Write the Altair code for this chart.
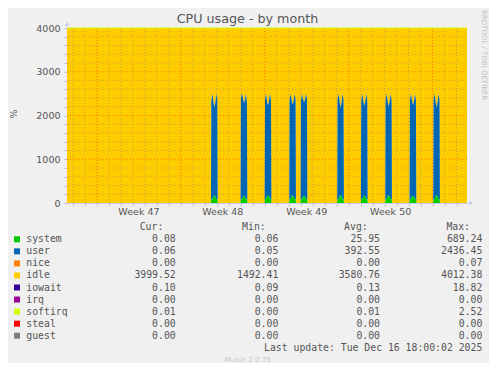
import altair as alt
import pandas as pd

# ---------------- data (time in days since Mon 17 Nov 2025 00:00 = start of ISO week 47)
x_domain = [-2.5, 30.87]
y_domain = [0, 4000]

base_user = 0.06
base_system = 0.08
base_idle = 3999.52

spike_start = [9.54, 12.01, 14.02, 16.07, 17.02, 20.07, 22.05, 24.08, 26.11, 28.08]
sample_step = 1 / 12  # 2-hour consolidated samples

spike_user = [
    [2250, 2420, 2170, 2020, 2140, 2410, 2240],
    [2300, 2436, 2260, 2120, 2210, 2425, 2200],
    [2270, 2415, 2150, 2060, 2180, 2420, 2230],
    [2260, 2410, 2200, 2080, 2170, 2415, 2250],
    [2240, 2420, 2230, 2150, 2200, 2410, 2280],
    [2290, 2425, 2180, 2000, 2120, 2420, 2250],
    [2250, 2420, 2190, 2050, 2160, 2410, 2230],
    [2270, 2415, 2170, 2030, 2150, 2420, 2240],
    [2260, 2420, 2200, 2070, 2170, 2415, 2250],
    [2280, 2425, 2160, 2010, 2140, 2420, 2240],
]
spike_system = [
    [90, 80, 150, 170, 150, 85, 90],
    [95, 70, 140, 165, 145, 75, 95],
    [100, 85, 160, 175, 155, 80, 100],
    [95, 90, 155, 170, 150, 85, 95],
    [100, 80, 150, 160, 150, 90, 100],
    [90, 75, 150, 175, 160, 80, 90],
    [95, 80, 150, 165, 150, 85, 95],
    [90, 85, 155, 170, 155, 80, 90],
    [95, 80, 150, 165, 150, 85, 95],
    [90, 75, 155, 175, 160, 80, 90],
]
spike_idle = [
    [1660, 1500, 1680, 1810, 1710, 1505, 1670],
    [1605, 1494, 1600, 1715, 1645, 1500, 1705],
    [1630, 1500, 1690, 1765, 1665, 1500, 1670],
    [1645, 1500, 1645, 1750, 1680, 1500, 1655],
    [1660, 1500, 1620, 1690, 1650, 1500, 1620],
    [1620, 1500, 1670, 1825, 1720, 1500, 1660],
    [1655, 1500, 1660, 1785, 1690, 1505, 1675],
    [1640, 1500, 1675, 1800, 1695, 1500, 1670],
    [1645, 1500, 1650, 1765, 1680, 1500, 1655],
    [1630, 1500, 1685, 1815, 1700, 1500, 1670],
]

week_mid = [3.5, 10.5, 17.5, 24.5]
week_labels = ["Week 47", "Week 48", "Week 49", "Week 50"]
week_start = [0, 7, 14, 21, 28]

series_names = ["system", "user", "nice", "idle", "iowait", "irq", "softirq", "steal", "guest"]
series_colors = ["#00cc00", "#0066b3", "#ff8000", "#ffcc00", "#330099",
                 "#990099", "#ccff00", "#ff0000", "#808080"]
cur_vals = ["0.08", "0.06", "0.00", "3999.52", "0.10", "0.00", "0.01", "0.00", "0.00"]
min_vals = ["0.06", "0.05", "0.00", "1492.41", "0.09", "0.00", "0.00", "0.00", "0.00"]
avg_vals = ["25.95", "392.55", "0.00", "3580.76", "0.13", "0.00", "0.01", "0.00", "0.00"]
max_vals = ["689.24", "2436.45", "0.07", "4012.38", "18.82", "0.00", "2.52", "0.00", "0.00"]

# ---------------- build the time series table
rows = [(x_domain[0], base_system, base_user, base_idle)]
for s, us, ss, ids in zip(spike_start, spike_user, spike_system, spike_idle):
    rows.append((s - 0.03, base_system, base_user, base_idle))
    for i, (u, sy, idl) in enumerate(zip(us, ss, ids)):
        rows.append((s + i * sample_step, sy, u, idl))
    rows.append((s + (len(us) - 1) * sample_step + 0.03, base_system, base_user, base_idle))
rows.append((x_domain[1], base_system, base_user, base_idle))
ts = pd.DataFrame(rows, columns=["t", "system", "user", "idle"])
ts["sys_top"] = ts["system"]
ts["user_top"] = ts["system"] + ts["user"]
ts["idle_top"] = ts["user_top"] + ts["idle"]

W, H = 400, 175
FONT = "DejaVu Sans"
MONO = "DejaVu Sans Mono"
TXT = "#555555"
AXC = "#c4caf0"

xs = alt.Scale(domain=x_domain, nice=False, zero=False)
ys = alt.Scale(domain=y_domain, nice=False)
x_axis = alt.Axis(values=list(range(-2, 31)), labels=False, tickSize=3, tickColor="#c0c0c0",
                  domainColor=AXC, grid=False, title=None)
y_axis = alt.Axis(values=list(range(0, 4001, 200)), format="d",
                  labelExpr="datum.value % 1000 == 0 ? datum.label : ''",
                  tickSize=3, tickColor="#c0c0c0", domainColor=AXC, grid=False, title=None,
                  labelFont=FONT, labelFontSize=9.5, labelColor=TXT, labelPadding=4)

X = alt.X("t:Q", scale=xs, axis=x_axis)

idle_area = alt.Chart(ts).mark_area(color="#ffcc00", interpolate="linear").encode(
    x=X, y=alt.Y("user_top:Q", scale=ys, axis=y_axis), y2="idle_top:Q")
user_area = alt.Chart(ts).mark_area(color="#0066b3", interpolate="linear").encode(
    x=X, y=alt.Y("sys_top:Q", scale=ys, axis=y_axis), y2="user_top:Q")
sys_area = alt.Chart(ts).mark_area(color="#00cc00", interpolate="linear").encode(
    x=X, y=alt.Y("zero:Q", scale=ys, axis=y_axis), y2="sys_top:Q").transform_calculate(zero="0")
top_line = alt.Chart(ts).mark_line(color="#ccff00", strokeWidth=1, interpolate="linear").encode(
    x=X, y=alt.Y("idle_top:Q", scale=ys, axis=y_axis))

grid_minor_x = pd.DataFrame({"t": [d for d in range(-2, 31) if d % 7]})
grid_major_x = pd.DataFrame({"t": week_start})
grid_minor_y = pd.DataFrame({"v": [v for v in range(200, 4000, 200) if v % 1000]})
grid_major_y = pd.DataFrame({"v": [1000, 2000, 3000]})

minor_v = alt.Chart(grid_minor_x).mark_rule(color="#808080", opacity=0.5, strokeDash=[1, 2]).encode(x=X)
major_v = alt.Chart(grid_major_x).mark_rule(color="#ff2000", opacity=0.5, strokeDash=[1, 2]).encode(x=X)
minor_h = alt.Chart(grid_minor_y).mark_rule(color="#808080", opacity=0.5, strokeDash=[1, 2]).encode(
    y=alt.Y("v:Q", scale=ys, axis=y_axis))
major_h = alt.Chart(grid_major_y).mark_rule(color="#ff2000", opacity=0.5, strokeDash=[1, 2]).encode(
    y=alt.Y("v:Q", scale=ys, axis=y_axis))

weeks = alt.Chart(pd.DataFrame({"t": week_mid, "label": week_labels})).mark_text(
    font=FONT, fontSize=9.5, color=TXT, baseline="middle", align="center").encode(
    x=X, y=alt.value(H + 9.3), text="label:N")

arrow_y = alt.Chart(pd.DataFrame({"t": [x_domain[0]], "v": [y_domain[1]]})).mark_point(
    shape="triangle-up", filled=True, color=AXC, size=22, yOffset=-4, opacity=1).encode(
    x=X, y=alt.Y("v:Q", scale=ys, axis=y_axis))
arrow_x = alt.Chart(pd.DataFrame({"t": [x_domain[1]], "v": [y_domain[0]]})).mark_point(
    shape="triangle-right", filled=True, color=AXC, size=22, xOffset=4, opacity=1).encode(
    x=X, y=alt.Y("v:Q", scale=ys, axis=y_axis))

plot = alt.layer(idle_area, minor_v, major_v, minor_h, major_h, user_area, sys_area,
                 top_line, weeks, arrow_y, arrow_x)

# ---------------- legend table (own row scale)
leg = pd.DataFrame({"row": list(range(len(series_names))), "name": series_names,
                    "color": series_colors, "cur": cur_vals, "min": min_vals,
                    "avg": avg_vals, "max": max_vals})
rs = alt.Scale(domain=[0, 8], range=[211.3, 307.7], nice=False, zero=False)
R = alt.Y("row:Q", scale=rs, axis=None)

squares = alt.Chart(leg).mark_square(size=36, opacity=1).encode(
    x=alt.value(-50), y=R, color=alt.Color("color:N", scale=None))
mono = dict(font=MONO, fontSize=9.8, color=TXT, baseline="middle")
names = alt.Chart(leg).mark_text(align="left", **mono).encode(x=alt.value(-40.7), y=R, text="name:N")
cols = []
for field, xpos in [("cur", 108.7), ("min", 211.3), ("avg", 313), ("max", 415.3)]:
    cols.append(alt.Chart(leg).mark_text(align="right", **mono).encode(
        x=alt.value(xpos), y=R, text=f"{field}:N"))

hdr = pd.DataFrame({"row": [-1, -1, -1, -1], "label": ["Cur:", "Min:", "Avg:", "Max:"],
                    "xr": [96.3, 198.7, 300.7, 403.0]})
headers = alt.Chart(hdr).mark_text(align="right", **mono).encode(
    x=alt.X("xr:Q", scale=None), y=R, text="label:N")

foot = pd.DataFrame({"row": [9], "label": ["Last update: Tue Dec 16 18:00:02 2025"]})
footer = alt.Chart(foot).mark_text(align="right", **mono).encode(
    x=alt.value(415.3), y=R, text="label:N")
ver = pd.DataFrame({"row": [10], "label": ["Munin 2.0.75"]})
version = alt.Chart(ver).mark_text(align="center", font=FONT, fontSize=7, color="#c8c8c8",
                                   baseline="middle").encode(x=alt.value(180.7), y=R, text="label:N")

legend = alt.layer(squares, names, *cols, headers, footer, version)

# ---------------- annotations
title = alt.Chart(pd.DataFrame({"label": ["CPU usage - by month"]})).mark_text(
    font=FONT, fontSize=12.7, color=TXT, baseline="middle", align="center").encode(
    x=alt.value(180.5), y=alt.value(-9), text="label:N")
pct = alt.Chart(pd.DataFrame({"label": ["%"]})).mark_text(
    font=FONT, fontSize=9.5, color=TXT, baseline="middle", align="center", angle=270).encode(
    x=alt.value(-53.5), y=alt.value(86), text="label:N")
rrd = alt.Chart(pd.DataFrame({"label": ["RRDTOOL / TOBI OETIKER"]})).mark_text(
    font=FONT, fontSize=7, color="#c0c0c0", baseline="middle", align="center", angle=90).encode(
    x=alt.value(417.3), y=alt.value(27), text="label:N")

chart = alt.layer(plot, legend, title, pct, rrd).resolve_scale(
    y="independent", x="independent").properties(
    width=W, height=H,
    padding={"left": 59, "top": 20, "right": 22, "bottom": 160},
    autosize=alt.AutoSizeParams(type="none"),
    background="#f0f0f0",
).configure_view(stroke=None)

chart.save("out.html", embed_options={"renderer": "svg", "actions": False})
